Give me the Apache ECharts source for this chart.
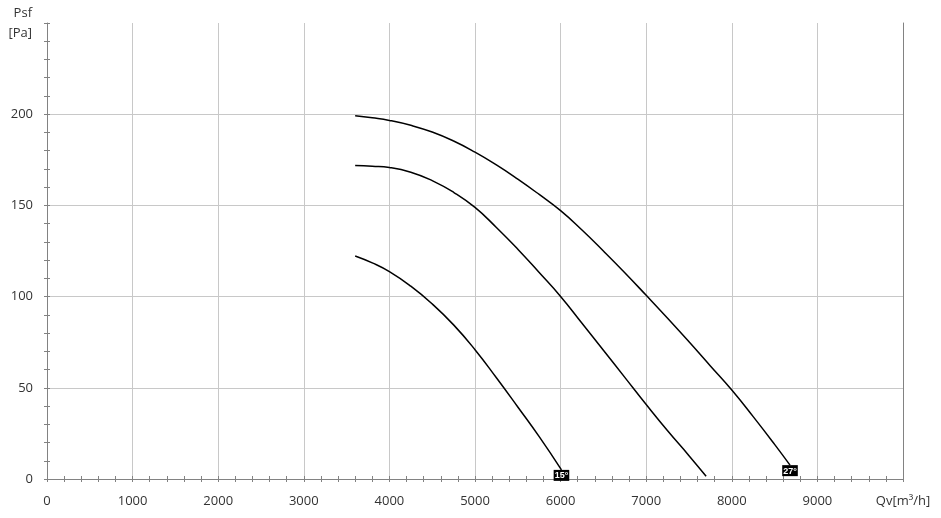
<!DOCTYPE html>
<html>
<head>
<meta charset="utf-8">
<script src="https://cdn.jsdelivr.net/npm/echarts@6/dist/echarts.min.js"></script>
<style>
html,body{margin:0;padding:0;background:#fff;}
#chart{width:941px;height:518px;}
</style>
</head>
<body>
<div id="chart"></div>
<script>
// Data (Qv in m3/h, Psf in Pa)
const qv15  = [3600, 3800, 4000, 4250, 4500, 4750, 5000, 5250, 5500, 5750, 6010];
const psf15 = [122.3, 118.5, 113.7, 105.7, 96.0, 84.5, 70.9, 55.5, 39.5, 23.2, 5.0];

const qvMid  = [3600, 3800, 4000, 4250, 4500, 4750, 5000, 5250, 5500, 5750, 6000, 6250, 6500, 6750, 7000, 7250, 7500, 7700];
const psfMid = [171.9, 171.5, 170.8, 168.2, 163.6, 157.2, 148.9, 137.9, 126.0, 113.2, 100.1, 85.4, 70.6, 55.7, 40.8, 26.4, 12.8, 1.5];

const qv27  = [3600, 3800, 4000, 4250, 4500, 4750, 5000, 5250, 5500, 5750, 6000, 6250, 6500, 6750, 7000, 7250, 7500, 7750, 8000, 8250, 8500, 8680];
const psf27 = [199.1, 198.0, 196.6, 193.9, 190.2, 185.3, 179.2, 172.2, 164.4, 156.0, 147.1, 136.5, 125.0, 113.1, 100.7, 88.1, 75.2, 62.0, 48.8, 34.2, 19.0, 7.6];

const curveNames = ['15°', '', '27°'];
const xTicks = [0, 1000, 2000, 3000, 4000, 5000, 6000, 7000, 8000, 9000, 10000];
const yTicks = [0, 50, 100, 150, 200, 250];
const xUnitLabel = 'Qv[m³/h]';
const yAxisName = 'Psf\n[Pa]';

const FONT = '"Open Sans", "Noto Sans", sans-serif';
const AXIS_COLOR = '#828282';
const GRID_COLOR = '#c8c8c8';
const TEXT_COLOR = '#333333';

function buildData(qv, psf, name) {
  const last = qv.length - 1;
  return qv.map((x, i) => {
    const item = { value: [x, psf[i]] };
    if (i === last && name) {
      item.label = {
        show: true,
        formatter: name,
        position: 'bottom',
        distance: 0,
        color: '#ffffff',
        backgroundColor: '#000000',
        fontFamily: '"Liberation Sans", Arial, sans-serif',
        fontWeight: 'bold',
        fontSize: 9,
        lineHeight: 10,
        padding: [1, 1, 0, 1]
      };
    }
    return item;
  });
}

function lineSeries(qv, psf, name) {
  return {
    type: 'line',
    xAxisIndex: 0,
    yAxisIndex: 0,
    smooth: 0.5,
    symbol: 'circle',
    symbolSize: 0,
    showSymbol: true,
    lineStyle: { color: '#000000', width: 1.5 },
    itemStyle: { color: '#000000' },
    label: { show: false },
    emphasis: { disabled: true },
    z: 5,
    data: buildData(qv, psf, name)
  };
}

const chart = echarts.init(document.getElementById('chart'), null, { renderer: 'canvas' });

const xMin = xTicks[0], xMax = xTicks[xTicks.length - 1], xInt = xTicks[1] - xTicks[0];
const yMin = yTicks[0], yMax = yTicks[yTicks.length - 1], yInt = yTicks[1] - yTicks[0];

const option = {
  animation: false,
  backgroundColor: '#ffffff',
  grid: { left: 47, right: 38, top: 23, bottom: 39, containLabel: false },
  xAxis: [
    {
      type: 'value', position: 'bottom',
      min: xMin, max: xMax, interval: xInt,
      axisLine: { show: true, lineStyle: { color: AXIS_COLOR, width: 1 } },
      axisTick: { show: true, inside: false, length: 3, lineStyle: { color: AXIS_COLOR } },
      minorTick: { show: true, splitNumber: 5, length: 3, lineStyle: { color: AXIS_COLOR } },
      splitLine: { show: true, lineStyle: { color: GRID_COLOR, width: 1 } },
      axisLabel: {
        show: true, margin: 16, color: TEXT_COLOR, fontFamily: FONT, fontSize: 13,
        showMinLabel: true, showMaxLabel: true, hideOverlap: false,
        formatter: v => (v === xMax ? xUnitLabel : String(v))
      }
    },
    {
      type: 'value', position: 'bottom', offset: 0,
      min: xMin, max: xMax, interval: xInt,
      axisLine: { show: false },
      axisTick: { show: true, inside: true, length: 3, lineStyle: { color: AXIS_COLOR } },
      minorTick: { show: true, splitNumber: 5, length: 3, lineStyle: { color: AXIS_COLOR } },
      splitLine: { show: false },
      axisLabel: { show: false }
    }
  ],
  yAxis: [
    {
      type: 'value', position: 'left',
      min: yMin, max: yMax, interval: yInt,
      name: yAxisName,
      nameLocation: 'end',
      nameGap: 0,
      nameTextStyle: {
        color: TEXT_COLOR, fontFamily: FONT, fontSize: 13,
        align: 'right', verticalAlign: 'middle', lineHeight: 20,
        padding: [1, 15, 0, 0]
      },
      axisLine: { show: true, lineStyle: { color: AXIS_COLOR, width: 1 } },
      axisTick: { show: true, inside: false, length: 3, lineStyle: { color: AXIS_COLOR } },
      minorTick: { show: true, splitNumber: 5, length: 3, lineStyle: { color: AXIS_COLOR } },
      splitLine: { show: true, showMaxLine: false, lineStyle: { color: GRID_COLOR, width: 1 } },
      axisLabel: {
        show: true, margin: 14, color: TEXT_COLOR, fontFamily: FONT, fontSize: 13,
        showMinLabel: true, showMaxLabel: true,
        formatter: v => (v === yMax ? '' : String(v))
      }
    },
    {
      type: 'value', position: 'left', offset: 0,
      min: yMin, max: yMax, interval: yInt,
      axisLine: { show: false },
      axisTick: { show: true, inside: true, length: 3, lineStyle: { color: AXIS_COLOR } },
      minorTick: { show: true, splitNumber: 5, length: 3, lineStyle: { color: AXIS_COLOR } },
      splitLine: { show: false },
      axisLabel: { show: false }
    },
    {
      type: 'value', position: 'right', offset: 0,
      min: yMin, max: yMax, interval: yInt,
      axisLine: { show: true, lineStyle: { color: AXIS_COLOR, width: 1 } },
      axisTick: { show: false },
      minorTick: { show: false },
      splitLine: { show: false },
      axisLabel: { show: false }
    }
  ],
  series: [
    lineSeries(qv15, psf15, curveNames[0]),
    lineSeries(qvMid, psfMid, curveNames[1]),
    lineSeries(qv27, psf27, curveNames[2])
  ]
};

chart.setOption(option);
</script>
</body>
</html>
